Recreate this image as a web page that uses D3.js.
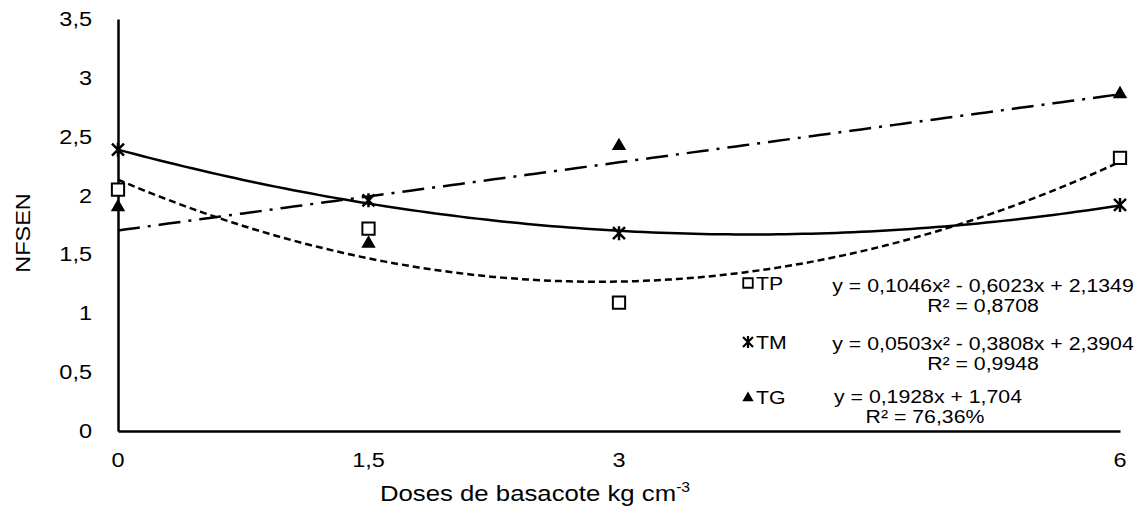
<!DOCTYPE html>
<html>
<head>
<meta charset="utf-8">
<script src="https://cdnjs.cloudflare.com/ajax/libs/d3/7.8.5/d3.min.js"></script>
<style>
  body { margin: 0; background: #fff; }
  text { font-family: "Liberation Sans", Arial, sans-serif; fill: #000; }
</style>
</head>
<body>
<div id="chart-area"></div>
<script>
const MARGIN = { LEFT: 118, RIGHT: 28, TOP: 19, BOTTOM: 80 }
const WIDTH = 1148 - MARGIN.LEFT - MARGIN.RIGHT
const HEIGHT = 511 - MARGIN.TOP - MARGIN.BOTTOM
const SX = 1.12   // picture is a bit wider than tall

// data
const doses = [0, 1.5, 3, 6]
const tp = [2.05, 1.72, 1.09, 2.32]
const tm = [2.39, 1.96, 1.68, 1.92]
const tg = [1.91, 1.60, 2.43, 2.87]
const yTicks = [0, 0.5, 1, 1.5, 2, 2.5, 3, 3.5]

// trendline coefficients [a, b, c] -> a x² + b x + c
const tpFit = [0.1046, -0.6023, 2.1349]
const tmFit = [0.0503, -0.3808, 2.3904]
const tgFit = [0, 0.1928, 1.704]

const fmt = d => String(d).replace(".", ",")

const svg = d3.select("#chart-area").append("svg")
  .attr("width", WIDTH + MARGIN.LEFT + MARGIN.RIGHT)
  .attr("height", HEIGHT + MARGIN.TOP + MARGIN.BOTTOM)

const g = svg.append("g")
  .attr("transform", `translate(${MARGIN.LEFT}, ${MARGIN.TOP})`)

const x = d3.scaleLinear().domain([0, 6]).range([0, WIDTH])
const y = d3.scaleLinear().domain([0, 3.5]).range([HEIGHT, 0])

// stretched text helper
function label(parent, tx, ty, str, size, anchor, rot) {
  const t = parent.append("text")
    .attr("transform", `translate(${tx}, ${ty}) ${rot ? "rotate(-90)" : ""} scale(${SX}, 1)`)
    .attr("font-size", size + "px")
    .attr("text-anchor", anchor || "middle")
  t.text(str)
  return t
}

// axes
const xAxisCall = d3.axisBottom(x).tickValues(doses).tickSize(0).tickFormat(fmt)
const xa = g.append("g")
  .attr("transform", `translate(0, ${HEIGHT})`)
  .call(xAxisCall)
xa.select(".domain").attr("stroke", "#000").attr("stroke-width", 2.5)
xa.selectAll("text").remove()
doses.forEach(d => label(g, x(d), HEIGHT + 36, fmt(d), 21))

const yAxisCall = d3.axisLeft(y).tickValues(yTicks).tickSize(0)
const ya = g.append("g").call(yAxisCall)
ya.select(".domain").attr("stroke", "#000").attr("stroke-width", 2.5)
ya.selectAll("text").remove()
yTicks.forEach(d => label(g, -26, y(d) + 7, fmt(d), 21, "end"))

// axis titles
const xt = label(g, WIDTH / 2 - 84, HEIGHT + 70, "Doses de basacote kg cm", 23)
xt.append("tspan").attr("font-size", "14px").attr("dy", -9).text("-3")
label(g, -MARGIN.LEFT + 30, HEIGHT / 2 + 8, "NFSEN", 21, "middle", true)

// trendlines
const xs = d3.range(0, 6.0001, 0.05)
const line = d3.line().x(d => x(d[0])).y(d => y(d[1]))
const fit = (c) => xs.map(v => [v, c[0] * v * v + c[1] * v + c[2]])

g.append("path").attr("d", line(fit(tpFit)))
  .attr("fill", "none").attr("stroke", "#000").attr("stroke-width", 2.5)
  .attr("stroke-dasharray", "7,4")
g.append("path").attr("d", line(fit(tmFit)))
  .attr("fill", "none").attr("stroke", "#000").attr("stroke-width", 2.5)
g.append("path").attr("d", line(fit(tgFit)))
  .attr("fill", "none").attr("stroke", "#000").attr("stroke-width", 2.5)
  .attr("stroke-dasharray", "22,8,3,8")

// markers
const square = d3.symbol().type(d3.symbolSquare).size(150)
const tri = d3.symbol().type(d3.symbolTriangle).size(90)

function star(sel) {
  sel.append("path")
    .attr("d", "M-6,-6L6,6M-6,6L6,-6M0,-7L0,7")
    .attr("stroke", "#000").attr("stroke-width", 2.5).attr("fill", "none")
}

doses.forEach((d, i) => {
  g.append("path").attr("d", square())
    .attr("transform", `translate(${x(d)}, ${y(tp[i])})`)
    .attr("fill", "#fff").attr("stroke", "#000").attr("stroke-width", 2)
  g.append("g").attr("transform", `translate(${x(d)}, ${y(tm[i])})`).call(star)
  g.append("path").attr("d", tri())
    .attr("transform", `translate(${x(d)}, ${y(tg[i]) + 1})`)
    .attr("fill", "#000")
})

// legend
const lx = 748 - MARGIN.LEFT
const lg = g.append("g")
lg.append("path").attr("d", d3.symbol().type(d3.symbolSquare).size(90)())
  .attr("transform", `translate(${lx}, ${283 - MARGIN.TOP})`)
  .attr("fill", "#fff").attr("stroke", "#000").attr("stroke-width", 1.8)
lg.append("path").attr("d", "M-5,-5L5,5M-5,5L5,-5M0,-6L0,6")
  .attr("transform", `translate(${lx}, ${342 - MARGIN.TOP})`)
  .attr("stroke", "#000").attr("stroke-width", 2.2).attr("fill", "none")
lg.append("path").attr("d", d3.symbol().type(d3.symbolTriangle).size(55)())
  .attr("transform", `translate(${lx}, ${398 - MARGIN.TOP})`)
  .attr("fill", "#000")

label(lg, lx + 8, 290 - MARGIN.TOP, "TP", 19, "start")
label(lg, lx + 8, 349 - MARGIN.TOP, "TM", 19, "start")
label(lg, lx + 8, 404 - MARGIN.TOP, "TG", 19, "start")

label(lg, 983 - MARGIN.LEFT, 292 - MARGIN.TOP, "y = 0,1046x² - 0,6023x + 2,1349", 19)
label(lg, 983 - MARGIN.LEFT, 312 - MARGIN.TOP, "R² = 0,8708", 19)
label(lg, 983 - MARGIN.LEFT, 350 - MARGIN.TOP, "y = 0,0503x² - 0,3808x + 2,3904", 19)
label(lg, 983 - MARGIN.LEFT, 370 - MARGIN.TOP, "R² = 0,9948", 19)
label(lg, 928 - MARGIN.LEFT, 403 - MARGIN.TOP, "y = 0,1928x + 1,704", 19)
label(lg, 925 - MARGIN.LEFT, 423 - MARGIN.TOP, "R² = 76,36%", 19)
</script>
</body>
</html>
